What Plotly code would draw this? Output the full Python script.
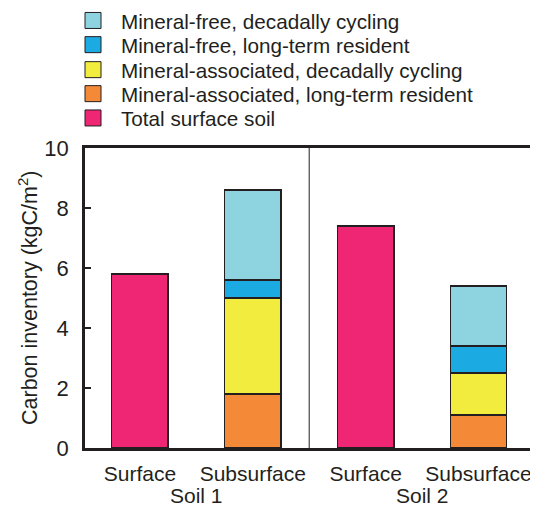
import plotly.graph_objects as go

# ---- data ----
soils = ["Soil 1", "Soil 2"]
depths = ["Surface", "Subsurface"]
surface_total = [5.8, 7.4]
mineral_assoc_longterm = [1.8, 1.1]
mineral_assoc_decadal = [3.2, 1.4]
mineral_free_longterm = [0.6, 0.9]
mineral_free_decadal = [3.0, 2.0]
y_ticks = [0, 2, 4, 6, 8, 10]

series_names = [
    "Mineral-free, decadally cycling",
    "Mineral-free, long-term resident",
    "Mineral-associated, decadally cycling",
    "Mineral-associated, long-term resident",
    "Total surface soil",
]
colors = {
    "Mineral-free, decadally cycling": "#8ed4e0",
    "Mineral-free, long-term resident": "#1babe2",
    "Mineral-associated, decadally cycling": "#f2ec3e",
    "Mineral-associated, long-term resident": "#f48a38",
    "Total surface soil": "#ee2674",
}
INK = "#231f20"
FONT = "Liberation Sans, Arial, Helvetica, sans-serif"

# figure size compensates for the page's 8px body margin
W, H = 530, 497

# positions: each soil has a surface and subsurface bar
surface_x = [2 * i for i in range(len(soils))]
sub_x = [2 * i + 1 for i in range(len(soils))]
tick_x = [2 * i + j for i in range(len(soils)) for j in range(len(depths))]
tick_text = [d for _ in soils for d in depths]

fig = go.Figure()
bar_style = dict(width=0.5, marker_line=dict(color=INK, width=1.5), showlegend=False,
                 hovertemplate="%{y}<extra>%{fullData.name}</extra>")

fig.add_bar(x=surface_x, y=surface_total, name="Total surface soil",
            marker_color=colors["Total surface soil"], **bar_style)
for name, vals in [
    ("Mineral-associated, long-term resident", mineral_assoc_longterm),
    ("Mineral-associated, decadally cycling", mineral_assoc_decadal),
    ("Mineral-free, long-term resident", mineral_free_longterm),
    ("Mineral-free, decadally cycling", mineral_free_decadal),
]:
    fig.add_bar(x=sub_x, y=vals, name=name, marker_color=colors[name], **bar_style)

# legend entries (one legend per row for exact spacing)
row_y = [12.5, 36.7, 61.7, 85.7, 110]
legend_layouts = {}
for i, name in enumerate(series_names):
    key = "legend" if i == 0 else f"legend{i+1}"
    fig.add_scatter(x=[None], y=[None], mode="markers", name=name, legend=key,
                    marker=dict(symbol="square", size=16, color=colors[name],
                                line=dict(color=INK, width=1)),
                    hoverinfo="skip", showlegend=True)
    legend_layouts[key] = dict(
        xref="container", yref="container", x=57 / W, y=1 - row_y[i] / H,
        xanchor="left", yanchor="middle", itemwidth=46, bgcolor="rgba(0,0,0,0)",
        font=dict(family=FONT, size=20.7, color=INK), itemsizing="trace",
    )

# divider between soils
fig.add_shape(type="line", xref="x", yref="paper", x0=1.5, x1=1.5, y0=0, y1=1,
              line=dict(color=INK, width=1))

for i, s in enumerate(soils):
    fig.add_annotation(x=(surface_x[i] + sub_x[i]) / 2, y=-0.157, xref="x", yref="paper",
                       text=s, showarrow=False, yanchor="middle",
                       font=dict(family=FONT, size=21, color=INK))

# y-axis title
fig.add_annotation(x=0, xref="paper", xshift=-57, y=0.5, yref="paper",
                   text="Carbon inventory (kgC/m<sup>2</sup>)", textangle=-90,
                   showarrow=False, xanchor="center", yanchor="middle",
                   font=dict(family=FONT, size=21.5, color=INK))

fig.update_layout(
    width=W, height=H,
    margin=dict(l=77, r=2, t=140, b=57, autoexpand=False),
    barmode="stack",
    plot_bgcolor="white", paper_bgcolor="white",
    font=dict(family=FONT, size=20, color=INK),
    **legend_layouts,
)
fig.update_xaxes(range=[-0.487, 3.51], tickvals=tick_x, ticktext=tick_text,
                 showgrid=False, zeroline=False, showline=True, linecolor=INK,
                 linewidth=2.5, mirror=True, ticks="", ticklabelstandoff=5,
                 tickfont=dict(family=FONT, size=21, color=INK))
fig.update_yaxes(range=[0, 10], tickvals=y_ticks, showgrid=False, zeroline=False,
                 showline=True, linecolor=INK, linewidth=2.5, mirror="ticks",
                 ticks="inside", ticklen=6, tickwidth=1.5, tickcolor=INK,
                 ticklabelstandoff=9,
                 tickfont=dict(family=FONT, size=22, color=INK))

fig.write_html("out.html")
